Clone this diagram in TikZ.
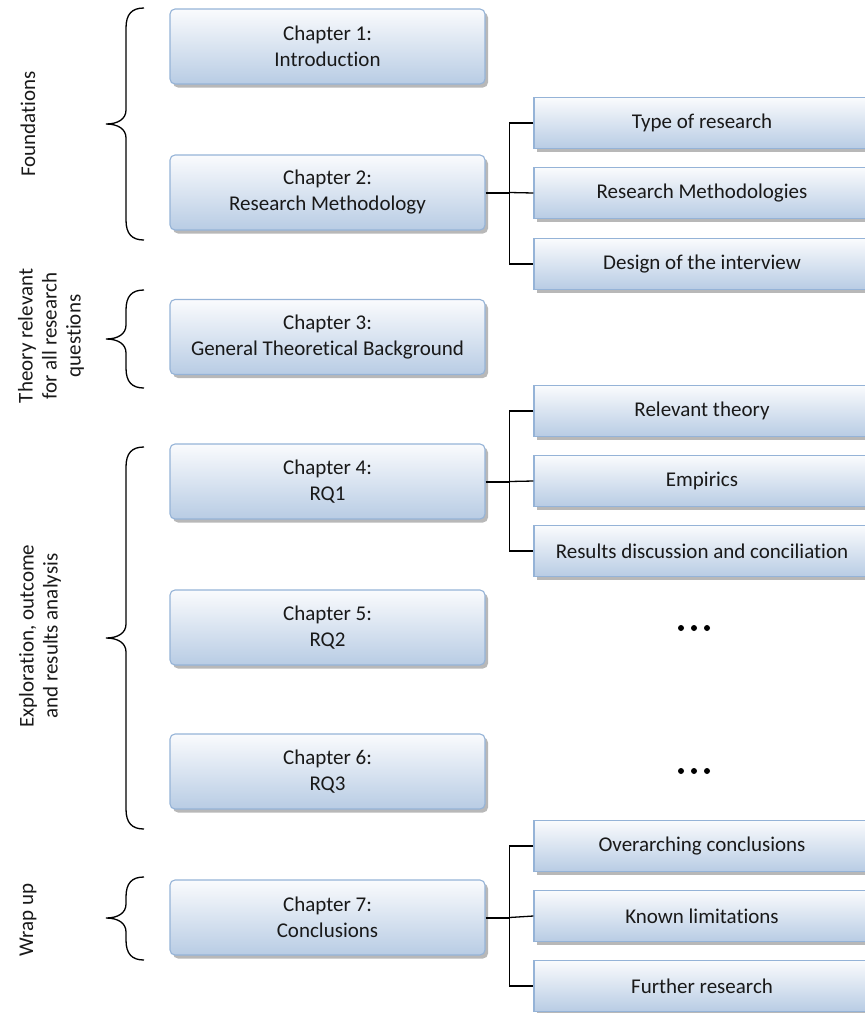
\documentclass[tikz,border=0pt]{standalone}
\usepackage{fontspec}
\setmainfont{Carlito}[Ligatures={NoCommon,NoRequired,NoContextual}, Contextuals=NoAlternate]
\usetikzlibrary{shadows}

\definecolor{boxtop}{RGB}{250,251,253}
\definecolor{boxbot}{RGB}{184,204,228}
\definecolor{boxline}{RGB}{149,179,215}
\definecolor{ink}{RGB}{25,25,25}

\tikzset{
  basebox/.style={draw=boxline, line width=1.1pt, top color=boxtop, bottom color=boxbot,
    align=center, text=ink, inner sep=0pt,
    font=\fontsize{21}{26}\selectfont,
    drop shadow={shadow xshift=3pt, shadow yshift=-3.5pt, fill=black, opacity=0.28}},
  chapbox/.style={basebox, rounded corners=5pt, minimum width=315pt, minimum height=75pt},
  topicbox/.style={basebox, minimum width=336pt, minimum height=51pt},
  link/.style={line width=1.3pt, black},
  stub/.style={line width=2pt, black},
  bracepath/.style={line width=1.3pt, black},
  sidelabel/.style={rotate=90, align=center, text=ink, font=\fontsize{21}{24}\selectfont, inner sep=0pt},
  dotmark/.style={circle, fill=black, inner sep=0pt, minimum size=6pt}
}

\begin{document}
\begin{tikzpicture}[x=1pt, y=-1pt]
\useasboundingbox (0,0) rectangle (865,1013);

% chapters
\node[chapbox] (c1) at (327.5,46.5)  {Chapter 1:\\Introduction};
\node[chapbox] (c2) at (327.5,192.5) {Chapter 2:\\Research Methodology};
\node[chapbox] (c3) at (327.5,337)   {Chapter 3:\\General Theoretical Background};
\node[chapbox] (c4) at (327.5,481.5) {Chapter 4:\\RQ1};
\node[chapbox] (c5) at (327.5,627.5) {Chapter 5:\\RQ2};
\node[chapbox] (c6) at (327.5,771.5) {Chapter 6:\\RQ3};
\node[chapbox] (c7) at (327.5,917.5) {Chapter 7:\\Conclusions};

% sub-topics
\node[topicbox] (t21) at (702,123) {Type of research};
\node[topicbox] (t22) at (702,193) {Research Methodologies};
\node[topicbox] (t23) at (702,264) {Design of the interview};

\node[topicbox] (t41) at (702,411) {Relevant theory};
\node[topicbox] (t42) at (702,481) {Empirics};
\node[topicbox] (t43) at (702,551) {Results discussion and conciliation};

\node[topicbox] (t71) at (702,846) {Overarching conclusions};
\node[topicbox] (t72) at (702,916) {Known limitations};
\node[topicbox] (t73) at (702,986) {Further research};

% connectors
\foreach \c/\a/\b/\m in {c2/t21/t23/t22, c4/t41/t43/t42, c7/t71/t73/t72}{
  \coordinate (j\c) at ([xshift=24pt]\c.east);
  \draw[stub] (\c.east) -- (j\c);
  \draw[link] (\a.west) -| (j\c) |- (\b.west);
  \draw[link] (j\c) -- (\m.west);
}

% continuation marks
\foreach \y/\n in {628/a, 771/b}{
  \node[dotmark] (dl\n) at (681,\y) {};
  \node[dotmark] (dm\n) at (694,\y) {};
  \node[dotmark] (dr\n) at (707,\y) {};
}

% braces
\foreach \yt/\ym/\yb in {8/124/240, 290/339/388, 447/638/829, 877/918/960}{
  \draw[bracepath] (144,\yt) .. controls (132,\yt) and (126,\yt+6) .. (126,\yt+20)
    -- (126,\ym-14) .. controls (126,\ym-5) and (118,\ym) .. (106,\ym)
    .. controls (118,\ym) and (126,\ym+5) .. (126,\ym+14)
    -- (126,\yb-20) .. controls (126,\yb-6) and (132,\yb) .. (144,\yb);
}

% part labels
\node[sidelabel] (l1) at (28,124)  {Foundations};
\node[sidelabel] (l2) at (51,336)  {Theory relevant\\for all research\\questions};
\node[sidelabel] (l3) at (40,636)  {Exploration, outcome\\and results analysis};
\node[sidelabel] (l4) at (28,920)  {Wrap up};
\end{tikzpicture}
\end{document}
